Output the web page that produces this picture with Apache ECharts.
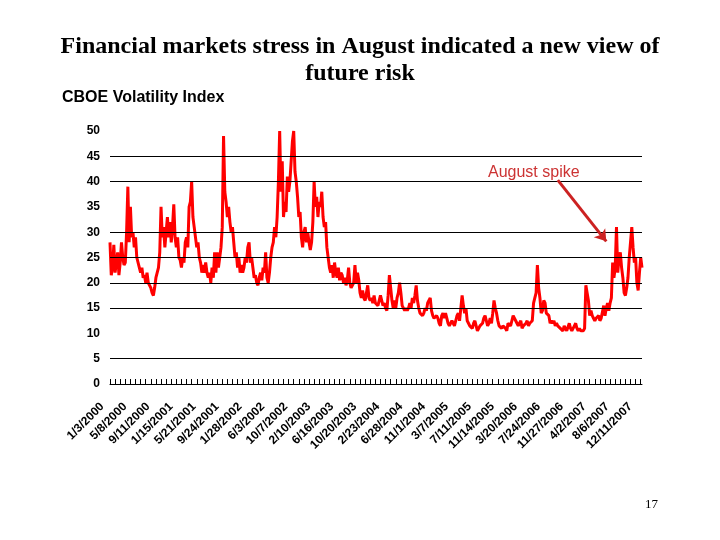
<!DOCTYPE html>
<html><head><meta charset="utf-8">
<script src="https://cdn.jsdelivr.net/npm/echarts@6/dist/echarts.min.js"></script>
<style>html,body{margin:0;padding:0;background:#fff}#c{width:720px;height:540px}</style>
</head><body><div id="c"></div>
<script>
// Weekly VIX readings (Mondays)
const vix2000 = [28,21.5,23,27.5,22,24,26,21.5,24,28,
 25,23.5,24,30,39,28,35,29,30,27,
 29,25,25,23,22,23,21,21.5,20,22,
 20,19.5,19,18,17.5,19,21,22,23,26,
 35,29,31,27,30,33,29,32,28,31,
 35.5,29];
const vix2001 = [27,29,25,24.5,23,25,24,28,29,27,
 35,36,40,33,31,31,27,28,25,24,
 22,23.5,22,24,22,21,22,20,23,21,
 26,22,26,23,25,27,31,49,38,36,
 33,35,32,30,31,28,25,26,23,25,
 22,23.5,22];
const vix2002 = [23,25,24,27,28,24,25,23,21,21.5,
 20,19.5,21,22,20.5,23,22,26,21,20,
 22,25,27,28,31,29,33,40,50,38,
 44,33,36,34,41,38,40,44,48,50,
 42,40,37,33,34,29,27,30,31,28,
 30,28];
const vix2003 = [26.5,28,32,40,35,37,33,36,35,38,
 33,31,32,27,25,23,22,23.5,21,24,
 22,21,23,20.5,22,21.5,20,21,19.5,20.5,
 23,20,19,19.5,20,23.5,20,22,20.5,18,
 17,18.5,17,16.5,18,19.5,17,16.5,17,16,
 17.5,16];
const vix2004 = [16,15.5,16.5,17.5,16.5,15.5,16,15,14.5,17.5,
 21.5,19,16.5,15,16.5,15,17,18,20,18,
 15.5,15.5,14.5,15,14.5,15,16,15,17,16,
 17.5,19.5,16.5,15,14,14,13.5,14,15,14.5,
 16,16.5,17,14.5,13.5,13,13,13.5,13,12,
 11.5,13.5];
const vix2005 = [14,13,14,13,12,11.5,11.5,12.5,12,11.5,
 12.5,13.5,14,12.5,15,17.5,15.5,14,15,12.5,
 12,11.5,11.5,11,12,12.5,11.5,10.5,11,11.5,
 11.5,12,13,13.5,12.5,11.5,12,13,12,14,
 16.5,15,14,12.5,11.5,11.5,11,11.5,11.5,11,
 10.5,12];
const vix2006 = [12,11.5,12.5,13.5,13,12.5,12,11.5,12,12.5,
 11,11.5,11.5,12,12.5,11.5,12,12,12.5,16,
 17,18,23.5,19,17,14,14.5,16.5,16,14,
 14,13.5,12,12.5,12,12.5,11.5,12,11.5,11.5,
 11,11,10.5,11.5,11,10.5,10.5,12,11,10.5,
 11,11.5];
const vix2007 = [12,11,10.5,11,10.5,10.5,10.5,11,19.5,18,
 16.5,13.5,14.5,13.5,13,12.5,13,13,13.5,12.5,
 13,13,15.5,13.5,15,16,14.5,16,17,24,
 21,23,31,22,25,26,23,21,18,17.5,
 19,21,25,28,31,27,24,25,20,18.5,
 22,25,23];

// Tick labels as printed on the reference axis (one every 18 weeks)
const tickLabels = ['1/3/2000','5/8/2000','9/11/2000','1/15/2001','5/21/2001','9/24/2001',
 '1/28/2002','6/3/2002','10/7/2002','2/10/2003','6/16/2003','10/20/2003','2/23/2004',
 '6/28/2004','11/1/2004','3/7/2005','7/11/2005','11/14/2005','3/20/2006','7/24/2006',
 '11/27/2006','4/2/2007','8/6/2007','12/11/2007'];
const labelEvery = 18;

const firstMonday = [2000, 0, 3];
const gridValues = [45, 40, 30, 25, 20, 15, 5];
const arrowStartIdx = 351, arrowStartVal = 40.3;
const arrowEndIdx = 389, arrowEndVal = 28.2;

const values = [].concat(vix2000, vix2001, vix2002, vix2003, vix2004, vix2005, vix2006, vix2007);
const dates = values.map((v, i) => {
  const d = new Date(Date.UTC(firstMonday[0], firstMonday[1], firstMonday[2] + 7 * i));
  return (d.getUTCMonth() + 1) + '/' + d.getUTCDate() + '/' + d.getUTCFullYear();
});

const chart = echarts.init(document.getElementById('c'), null, {renderer: 'canvas'});
chart.setOption({
  animation: false,
  backgroundColor: '#fff',
  title: [{
    text: 'Financial markets stress in August indicated a new view of\nfuture risk',
    left: 'center', top: 28,
    textStyle: {fontFamily: 'Liberation Serif', fontWeight: 'bold', fontSize: 24, lineHeight: 27, color: '#000'}
  }, {
    text: 'CBOE Volatility Index',
    left: 57, top: 85,
    textStyle: {fontFamily: 'Liberation Sans', fontWeight: 'bold', fontSize: 16, color: '#000'}
  }],
  grid: {left: 110, right: 78, top: 131, bottom: 156, containLabel: false},
  xAxis: {
    type: 'category', data: dates, boundaryGap: false,
    axisLine: {show: true, lineStyle: {color: '#000', width: 1}},
    axisTick: {show: true, inside: true, length: 5, interval: 3, lineStyle: {color: '#000'}},
    axisLabel: {
      interval: (i) => i % labelEvery === 0,
      formatter: (v, i) => tickLabels[Math.round(i / labelEvery)] || '',
      rotate: 45, margin: 13, padding: [0, 11, 0, 0],
      fontFamily: 'Liberation Sans', fontWeight: 'bold', fontSize: 12, color: '#000'
    },
    splitLine: {show: false}
  },
  yAxis: {
    type: 'value', min: 0, max: 50, interval: 5,
    axisLine: {show: false}, axisTick: {show: false},
    axisLabel: {margin: 10, fontFamily: 'Liberation Sans', fontWeight: 'bold', fontSize: 12, color: '#000'},
    splitLine: {show: false}
  },
  graphic: [{
    type: 'text', left: 488, top: 165,
    style: {text: 'August spike', font: '16px "Liberation Sans"', fill: '#cc3333'}
  }, {
    type: 'text', left: 645, top: 498,
    style: {text: '17', font: '13px "Liberation Serif"', fill: '#000'}
  }],
  series: [{
    type: 'line', data: [], z: 1, silent: true,
    markLine: {
      silent: true, symbol: 'none', animation: false,
      label: {show: false},
      lineStyle: {color: '#000', width: 1, type: 'solid'},
      data: gridValues.map(v => ({yAxis: v}))
    }
  }, {
    type: 'line', data: values, z: 3, showSymbol: false, smooth: false,
    lineStyle: {color: '#ff0000', width: 3},
    itemStyle: {color: '#ff0000'},
    markLine: {
      silent: true, symbol: ['none', 'arrow'], symbolSize: 11, animation: false,
      label: {show: false},
      lineStyle: {color: '#cc2222', width: 3, type: 'solid'},
      data: [[{coord: [dates[arrowStartIdx], arrowStartVal]}, {coord: [dates[arrowEndIdx], arrowEndVal]}]]
    }
  }]
});
</script></body></html>
